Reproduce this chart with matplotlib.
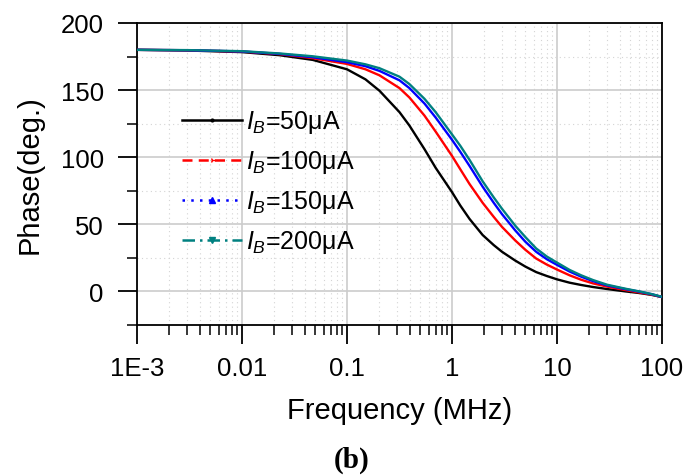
import matplotlib
matplotlib.use("Agg")
import matplotlib.pyplot as plt
from matplotlib.lines import Line2D
from matplotlib.ticker import LogLocator, MultipleLocator, NullFormatter

plt.rcParams["font.family"] = ["Liberation Sans", "DejaVu Sans"]
plt.rcParams["mathtext.fontset"] = "custom"
plt.rcParams["mathtext.rm"] = "Liberation Sans"
plt.rcParams["mathtext.it"] = "Liberation Sans:italic"

# frequency (MHz) and phase (deg.)
freq = [0.001, 0.003, 0.01, 0.0228, 0.0472, 0.1, 0.15, 0.204, 0.316, 0.393,
        0.547, 0.7, 1.0, 1.2, 1.47, 1.96, 2.5, 3.0, 4, 5, 6.34, 8, 10, 13.2,
        17, 22, 30, 45, 61, 80, 100]
phase_50 = [180, 179.5, 178.3, 176, 172.5, 165.5, 158, 149.5, 133.6, 123.6,
            106, 92, 74, 64, 54, 42, 34.5, 29.5, 23, 18.5, 14.4, 11.5, 9, 6.5,
            4.8, 3.3, 1.8, 0, -1.2, -2.6, -4.2]
phase_100 = [180, 179.7, 178.7, 176.8, 173.8, 169.5, 165.5, 161, 151.5, 144.5,
             131, 119, 101, 91, 80, 66, 55.5, 48, 38, 31, 24.5, 20, 16.3, 12,
             8.7, 6, 3.6, 1, -0.8, -2.4, -4.2]
phase_150 = [180, 179.7, 178.8, 177, 174.5, 170.8, 167.8, 164.3, 157.3, 151.5,
             140, 129.5, 113, 104, 93.5, 78, 66, 57.5, 45.5, 37, 29.5, 24, 19.8,
             14.8, 11, 7.7, 4.5, 1.7, -0.2, -2.1, -4.2]
phase_200 = [180, 179.8, 179, 177.3, 175.2, 172, 169.2, 166.3, 160, 154.5,
             143.5, 133.5, 117, 108.5, 98, 82, 70, 61.5, 49, 40.5, 32, 26, 21.5,
             16, 12, 8.5, 5, 2, 0, -2, -4]

labels = [r"$I_B$=50μA", r"$I_B$=100μA", r"$I_B$=150μA", r"$I_B$=200μA"]
colors = ["black", "#ff0000", "#0000ff", "#008080"]
styles = ["-", (0, (4, 2.5)), (0, (1, 2.5)), (0, (5, 2, 1, 2))]
marks = [".", "4", "^", "v"]

fig = plt.figure(figsize=(6.85, 4.77), dpi=100)
ax = fig.add_axes([0.2, 0.3166, 0.7664, 0.6331])

for ys, c in zip([phase_50, phase_100, phase_150, phase_200], colors):
    ax.plot(freq, ys, color=c, lw=1.7, zorder=3, solid_joinstyle="round")

ax.set_xscale("log")
ax.set_xlim(0.001, 100)
ax.set_ylim(-25, 200)

ax.set_xticks([0.001, 0.01, 0.1, 1, 10, 100],
              ["1E-3", "0.01", "0.1", "1", "10", "100"])
ax.xaxis.set_minor_locator(LogLocator(base=10, subs=range(2, 10)))
ax.xaxis.set_minor_formatter(NullFormatter())
ax.yaxis.set_major_locator(MultipleLocator(50))
ax.yaxis.set_minor_locator(MultipleLocator(25))

ax.grid(which="major", color="#cccccc", lw=1.2, zorder=0)
ax.grid(which="minor", color="#d4d4d4", lw=0.8, ls=(0, (1, 3)), zorder=0)

for sp in ax.spines.values():
    sp.set_linewidth(1.3)
    sp.set_color("black")

ax.tick_params(axis="both", which="major", direction="out", length=14, width=1.3,
               labelsize=18.5, colors="black")
ax.tick_params(axis="both", which="minor", direction="out", length=7, width=1.1)
ax.tick_params(axis="y", which="major", pad=10)
ax.tick_params(axis="x", which="major", pad=8)

ax.set_xlabel("Frequency (MHz)", fontsize=21, labelpad=12)
ax.set_ylabel("Phase(deg.)", fontsize=21, labelpad=12)

handles = [Line2D([0, 0.5, 1], [0, 0, 0], color=c, ls=s, lw=1.8, marker=m,
                  markersize=4, markevery=[1], markerfacecolor=c, markeredgecolor=c)
           for c, s, m in zip(colors, styles, marks)]
leg = ax.legend(handles, labels, loc="center left", bbox_to_anchor=(0.086, 0.474),
                frameon=False, fontsize=18, handlelength=2.4, handletextpad=0.15,
                labelspacing=0.52, borderpad=0, borderaxespad=0)

fig.text(0.513, 0.034, "(b)", fontsize=21, fontweight="bold",
         family=["Liberation Serif", "DejaVu Serif"], ha="center", va="center")

fig.savefig("out.png", dpi=100)
